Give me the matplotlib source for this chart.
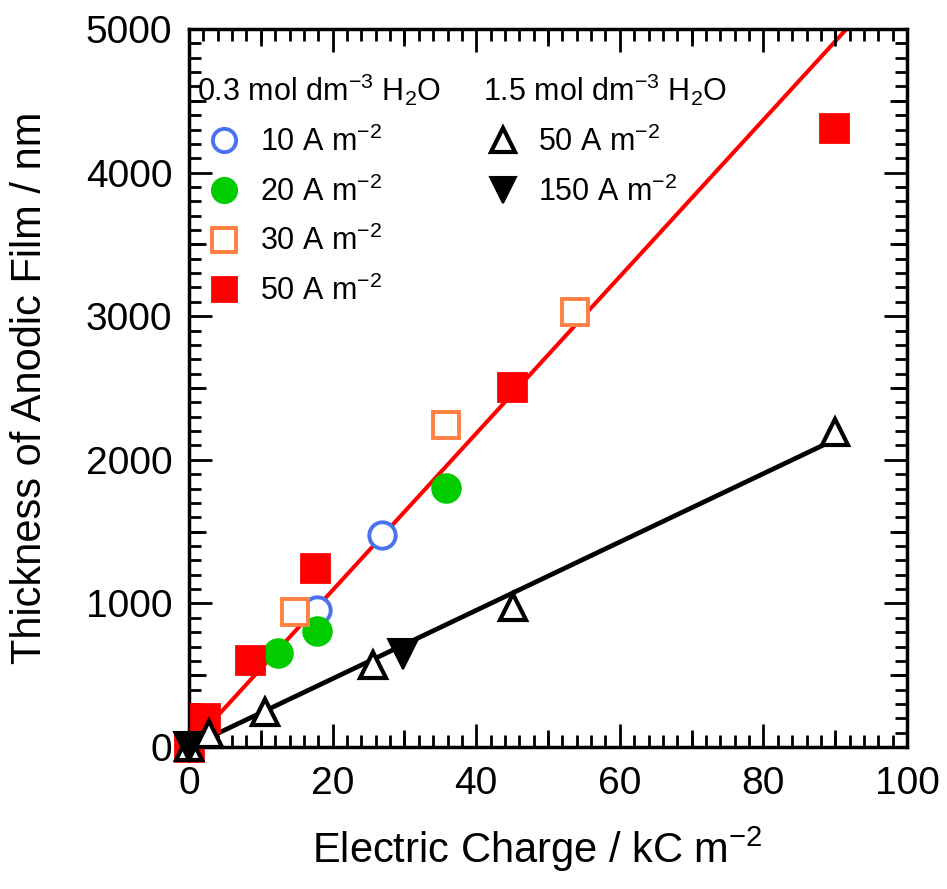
import numpy as np
import matplotlib
matplotlib.use('Agg')
import matplotlib.pyplot as plt
from matplotlib.ticker import MultipleLocator, FixedLocator, NullLocator
from matplotlib.lines import Line2D

plt.rcParams['font.family'] = ['Liberation Sans', 'DejaVu Sans']
plt.rcParams['mathtext.fontset'] = 'custom'
plt.rcParams['mathtext.rm'] = 'Liberation Sans'
plt.rcParams['mathtext.it'] = 'Liberation Sans:italic'

# 0.3 mol dm-3 H2O
q_10 = [17.8, 26.9]
t_10 = [954, 1476]
q_20 = [12.4, 17.8, 35.8]
t_20 = [655, 808, 1804]
q_30 = [14.8, 35.8, 53.8]
t_30 = [940, 2242, 3029]
q_50 = [0, 2.2, 8.5, 17.5, 45.0, 89.8]
t_50 = [0, 202, 606, 1247, 2507, 4311]

# 1.5 mol dm-3 H2O
q_50w = [0, 2.8, 10.6, 25.6, 45.1, 90.0]
t_50w = [0, 90, 244, 571, 975, 2194]
q_150w = [0, 29.8]
t_150w = [0, 648]

# fitted lines (nm per kC m-2)
slope_low = 54.6
slope_high = 23.8
fit_q_low = np.array([0, 95])
fit_q_high = np.array([0, 90])

blue = '#4a72f0'
green = '#00cc00'
orange = '#ff8040'
red = '#ff0000'

fig = plt.figure(figsize=(9.47, 8.89), dpi=100)
ax = fig.add_axes([0.1996, 0.1597, 0.7582, 0.8077])

# twins carry the medium ticks (every 10 on x, every 500 on y)
tx = ax.twiny()
ty = ax.twinx()

ax.plot(fit_q_low, slope_low * fit_q_low, color=red, lw=2.9, zorder=2)
ax.plot(fit_q_high, slope_high * fit_q_high, color='black', lw=3.4, zorder=2,
        solid_capstyle='round')

ax.plot(q_10, t_10, 'o', ms=19, mfc='white', mec=blue, mew=2.8, zorder=3,
        clip_on=False)
ax.plot(q_20, t_20, 'o', ms=20.5, mfc=green, mec=green, mew=1.5, zorder=3,
        clip_on=False)
ax.plot(q_30, t_30, 's', ms=19, mfc='white', mec=orange, mew=2.8, zorder=3,
        clip_on=False)
ax.plot(q_50, t_50, 's', ms=20, mfc=red, mec=red, mew=2, zorder=3,
        clip_on=False)
ax.plot(q_50w, t_50w, '^', ms=19, mfc='white', mec='black', mew=3, zorder=4,
        clip_on=False)
ax.plot(q_150w, t_150w, 'v', ms=21, mfc='black', mec='black', mew=1.5, zorder=4,
        clip_on=False)

ax.set_xlim(0, 100)
ax.set_ylim(0, 5000)
ax.xaxis.set_major_locator(MultipleLocator(20))
ax.xaxis.set_minor_locator(MultipleLocator(2))
ax.yaxis.set_major_locator(MultipleLocator(1000))
ax.yaxis.set_minor_locator(MultipleLocator(100))
ax.tick_params(which='both', direction='in', top=True, bottom=True,
               left=True, right=True, width=2,
               labeltop=False, labelright=False)
ax.tick_params(which='major', length=16.5)
ax.tick_params(which='minor', length=8.5)
ax.tick_params(axis='x', labelsize=28, pad=14)
ax.tick_params(axis='y', labelsize=28, pad=12)
for sp in ax.spines.values():
    sp.set_linewidth(2.5)

tx.set_xlim(0, 100)
tx.xaxis.set_major_locator(FixedLocator([10, 30, 50, 70, 90]))
tx.xaxis.set_minor_locator(NullLocator())
tx.tick_params(axis='x', direction='in', length=12, width=2, top=True,
               bottom=True, labeltop=False, labelbottom=False)
ty.set_ylim(0, 5000)
ty.yaxis.set_major_locator(FixedLocator([500, 1500, 2500, 3500, 4500]))
ty.yaxis.set_minor_locator(NullLocator())
ty.tick_params(axis='y', direction='in', length=12, width=2, left=True,
               right=True, labelleft=False, labelright=False)
for t in (tx, ty):
    for sp in t.spines.values():
        sp.set_visible(False)

ax.set_xlabel('Electric Charge / kC m$^{-2}$', fontsize=30, labelpad=16)
ax.xaxis.label.set_x(0.485)
ax.set_ylabel('Thickness of Anodic Film / nm', fontsize=30, labelpad=26)

h1 = [Line2D([], [], ls='none', marker='o', ms=19, mfc='white', mec=blue, mew=2.8),
      Line2D([], [], ls='none', marker='o', ms=20.5, mfc=green, mec=green, mew=1.5),
      Line2D([], [], ls='none', marker='s', ms=19, mfc='white', mec=orange, mew=2.8),
      Line2D([], [], ls='none', marker='s', ms=20, mfc=red, mec=red, mew=2)]
l1 = ['10 A m$^{-2}$', '20 A m$^{-2}$', '30 A m$^{-2}$', '50 A m$^{-2}$']
h2 = [Line2D([], [], ls='none', marker='^', ms=19, mfc='white', mec='black', mew=3),
      Line2D([], [], ls='none', marker='v', ms=21, mfc='black', mec='black', mew=1.5)]
l2 = ['50 A m$^{-2}$', '150 A m$^{-2}$']

leg1 = ty.legend(h1, l1, title='0.3 mol dm$^{-3}$ H$_2$O', loc='upper left',
                 bbox_to_anchor=(0.011, 0.940), frameon=False, fontsize=22,
                 title_fontsize=22, alignment='left', markerscale=0.88,
                 handlelength=1.76, handletextpad=0.3, labelspacing=0.60,
                 borderpad=0, borderaxespad=0)
ty.add_artist(leg1)
leg2 = ty.legend(h2, l2, title='1.5 mol dm$^{-3}$ H$_2$O', loc='upper left',
                 bbox_to_anchor=(0.409, 0.940), frameon=False, fontsize=22,
                 title_fontsize=22, alignment='left', markerscale=0.88,
                 handlelength=1.31, handletextpad=0.5, labelspacing=0.60,
                 borderpad=0, borderaxespad=0)

fig.savefig('out.png', dpi=100)
